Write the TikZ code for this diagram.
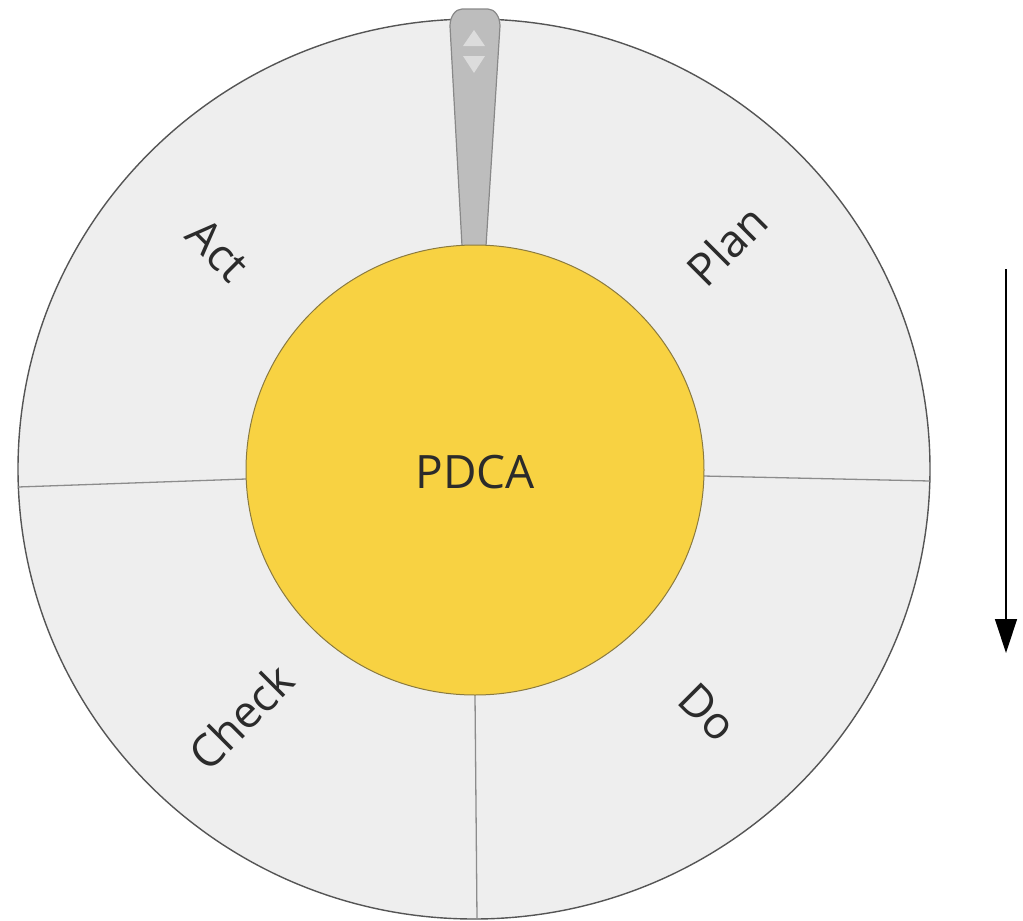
\documentclass[tikz,border=0pt]{standalone}
\usepackage{fontspec}
\setmainfont{Open Sans}
\usetikzlibrary{arrows.meta}
\definecolor{ringfill}{HTML}{EEEEEE}
\definecolor{ringline}{HTML}{555555}
\definecolor{divline}{HTML}{8C8C8C}
\definecolor{hubfill}{HTML}{F8D242}
\definecolor{hubline}{HTML}{8A7A40}
\definecolor{ptrfill}{HTML}{BDBDBD}
\definecolor{ptrline}{HTML}{888888}
\definecolor{ptrmark}{HTML}{DCDCDC}
\definecolor{txt}{HTML}{2B2B2B}
\tikzset{
  divider/.style={draw=divline, line width=1.3pt},
  seglabel/.style={font=\fontsize{45}{54}\selectfont, text=txt, inner sep=0pt},
}
\begin{document}
\begin{tikzpicture}[x=1pt,y=-1pt]
\useasboundingbox (0,0) rectangle (1023,921);
% outer ring
\draw[fill=ringfill, draw=ringline, line width=1.4pt] (474,469) ellipse [x radius=456, y radius=450];
% dividers
\coordinate (lin) at (246,479); \coordinate (lout) at (18,487);
\coordinate (rin) at (703,476); \coordinate (rout) at (930,481);
\coordinate (bin) at (475,695); \coordinate (bout) at (477,919);
\draw[divider] (lin) -- (lout);
\draw[divider] (rin) -- (rout);
\draw[divider] (bin) -- (bout);
% pointer
\draw[fill=ptrfill, draw=ptrline, line width=1.2pt]
  (462,246) -- (450,26) arc[start angle=180, end angle=90, x radius=12, y radius=-17]
  -- (488,9) arc[start angle=90, end angle=0, x radius=12, y radius=-17] -- (486,246) -- cycle;
\fill[ptrmark] (463,46) -- (485,46) -- (474,30) -- cycle;
\fill[ptrmark] (463,56) -- (485,56) -- (474,73) -- cycle;
% hub
\draw[fill=hubfill, draw=hubline, line width=1pt] (475,470) ellipse [x radius=229, y radius=225];
\node[font=\fontsize{46}{54}\selectfont, text=txt] (hub) at (475,472) {PDCA};
% labels
\node[seglabel, rotate=-45] (act) at (218,250) {Act};
\node[seglabel, rotate=45] (plan) at (727,245) {Plan};
\node[seglabel, rotate=45] (check) at (241,717) {Check};
\node[seglabel, rotate=-45] (do) at (708,712) {Do};
% direction arrow
\coordinate (astart) at (1006,269); \coordinate (aend) at (1006,653);
\draw[line width=1.3pt, -{Triangle[width=22pt,length=34pt]}] (astart) -- (aend);
\end{tikzpicture}
\end{document}
